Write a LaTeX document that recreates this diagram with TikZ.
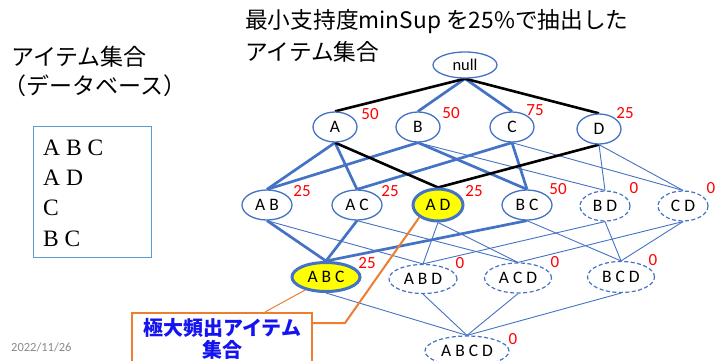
\documentclass[tikz,border=0pt]{standalone}
\usepackage{fontspec}
\setmainfont{Carlito}
\newfontfamily\jp{Noto Sans CJK JP}
\newfontfamily\serifA{Liberation Serif}
\usetikzlibrary{shapes.geometric}
\pgfdeclarelayer{bg}
\pgfsetlayers{bg,main}
\definecolor{nblue}{RGB}{68,114,196}
\definecolor{bxblue}{RGB}{91,155,213}
\definecolor{org}{RGB}{237,125,49}
\definecolor{ylw}{RGB}{255,255,0}
\definecolor{dategray}{RGB}{137,137,137}
\definecolor{callblue}{RGB}{20,20,240}
\begin{document}
\begin{tikzpicture}[x=1pt,y=-1pt,
  nd/.style={ellipse, draw=nblue, line width=1.3pt, fill=white, inner sep=0pt,
             font=\fontsize{17.5}{19}\selectfont},
  lvA/.style={nd, minimum width=44pt, minimum height=30pt},
  lvB/.style={nd, minimum width=50pt, minimum height=30pt},
  lvC/.style={nd, minimum width=68pt, minimum height=30pt},
  hit/.style={fill=ylw, line width=3pt},
  zero/.style={dashed, dash pattern=on 4pt off 2.5pt, line width=1.2pt},
  sup/.style={text=red, font=\fontsize{17}{19}\selectfont, inner sep=0pt},
  thk/.style={draw=nblue, line width=2.7pt},
  thn/.style={draw=nblue, line width=0.9pt},
  blk/.style={draw=black, line width=2.6pt},
  jptext/.style={font=\jp\fontsize{23}{28}\selectfont, inner sep=0pt, anchor=west},
  dbline/.style={font=\serifA\fontsize{23.5}{26}\selectfont, inner sep=0pt, anchor=base west},
  ]
\useasboundingbox (0,0) rectangle (715,360);

% titles
\node[jptext, font=\jp\fontsize{22.7}{28}\selectfont] (title1) at (245,22) {最小支持度minSup を25\%で抽出した};
\node[jptext, font=\jp\fontsize{22.7}{28}\selectfont] (title2) at (245,52) {アイテム集合};
\node[jptext] (dbt1) at (11,57) {アイテム集合};
\node[jptext] (dbt2) at (3,86) {（データベース）};

% database box
\node[draw=bxblue, line width=1pt, minimum width=118pt, minimum height=131pt, inner sep=0pt] (dbbox) at (92,191.5) {};
\node[dbline] (db1) at (43,155) {A B C};
\node[dbline] (db2) at (43,185) {A D};
\node[dbline] (db3) at (43,215) {C};
\node[dbline] (db4) at (43,246) {B C};

% lattice nodes
\node[nd, minimum width=64pt, minimum height=26pt, font=\fontsize{16.5}{18}\selectfont] (null) at (465,65) {null};
\node[lvA] (A) at (335,127) {A};
\node[lvA] (B) at (418,127) {B};
\node[lvA] (C) at (512,127) {C};
\node[lvA] (D) at (599,129) {D};

\node[lvB] (AB) at (267,205) {A B};
\node[lvB] (AC) at (357,205) {A C};
\node[lvB, hit, minimum height=32pt] (AD) at (438,205) {A D};
\node[lvB] (BC) at (527,205) {B C};
\node[lvB, zero] (BD) at (605,206) {B D};
\node[lvB, zero] (CD) at (683,206) {C D};

\node[lvC, hit, minimum height=29pt] (ABC) at (326,277) {A B C};
\node[lvC, zero, minimum height=29pt] (ABD) at (423,279) {A B D};
\node[lvC, zero, minimum width=67pt] (ACD) at (518,278) {A C D};
\node[lvC, zero, minimum width=67pt, minimum height=31pt] (BCD) at (621,277) {B C D};
\node[nd, zero, minimum width=84pt, minimum height=30pt] (ABCD) at (467,351) {A B C D};

% support labels
\node[sup] (sA) at (370,114) {50};
\node[sup] (sB) at (451,113) {50};
\node[sup] (sC) at (535,110) {75};
\node[sup] (sD) at (625,113) {25};
\node[sup] (sAB) at (302,191) {25};
\node[sup] (sAC) at (390,191) {25};
\node[sup] (sAD) at (474,191) {25};
\node[sup] (sBC) at (558,189) {50};
\node[sup] (sBD) at (634,188) {0};
\node[sup] (sCD) at (711,188) {0};
\node[sup] (sABC) at (367,263) {25};
\node[sup] (sABD) at (460,263) {0};
\node[sup] (sACD) at (555,262) {0};
\node[sup] (sBCD) at (653,260) {0};
\node[sup] (sABCD) at (513,339) {0};

% edges
\begin{pgfonlayer}{bg}
\draw[thn] (B.south) -- (BD.north);
\draw[thn] (C.south) -- (CD.north);
\draw[thn] (D.south) -- (BD.north);
\draw[thn] (D.south) -- (CD.north);
\draw[thn] (AB.south) -- (ABD.north);
\draw[thn] (AD.south) -- (ABD.north);
\draw[thn] (BD.south) -- (ABD.north);
\draw[thn] (AC.south) -- (ACD.north);
\draw[thn] (AD.south) -- (ACD.north);
\draw[thn] (CD.south) -- (ACD.north);
\draw[thn] (BC.south) -- (BCD.north);
\draw[thn] (BD.south) -- (BCD.north);
\draw[thn] (CD.south) -- (BCD.north);
\draw[thn] (ABC.south) -- (ABCD.north);
\draw[thn] (ABD.south) -- (ABCD.north);
\draw[thn] (ACD.south) -- (ABCD.north);
\draw[thn] (BCD.south) -- (ABCD.north);
\draw[thk] (null.south) -- (B.north);
\draw[thk] (null.south) -- (C.north);
\draw[thk] (A.south) -- (AB.north);
\draw[thk] (A.south) -- (AC.north);
\draw[thk] (B.south) -- (AB.north);
\draw[thk] (B.south) -- (BC.north);
\draw[thk] (C.south) -- (AC.north);
\draw[thk] (C.south) -- (BC.north);
\draw[thk] (AB.south) -- (ABC.north);
\draw[thk] (AC.south) -- (ABC.north);
\draw[thk] (BC.south) -- (ABC.north);
\draw[blk] (null.south) -- (A.north);
\draw[blk] (null.south) -- (D.north);
\draw[blk] (A.south) -- (AD.north);
\draw[blk] (D.south) -- (AD.north);
\end{pgfonlayer}

% callout
\node[draw=org, line width=2pt, fill=white, minimum width=180pt, minimum height=52pt, inner sep=0pt,
      align=center, text=callblue, font=\jp\bfseries\fontsize{20}{22}\selectfont] (callout) at (222,339)
      {極大頻出アイテム\\集合};
\coordinate (bend) at (345,323);
\draw[org, line width=2pt] (AD.south west) -- (bend) -- (bend -| callout.east);
\draw[org, line width=1pt] (ABC.212) -- ([xshift=43pt]callout.north);

% date
\node[text=dategray, font=\fontsize{12.5}{14}\selectfont, inner sep=0pt, anchor=west] (date) at (11,347) {2022/11/26};
\end{tikzpicture}
\end{document}
